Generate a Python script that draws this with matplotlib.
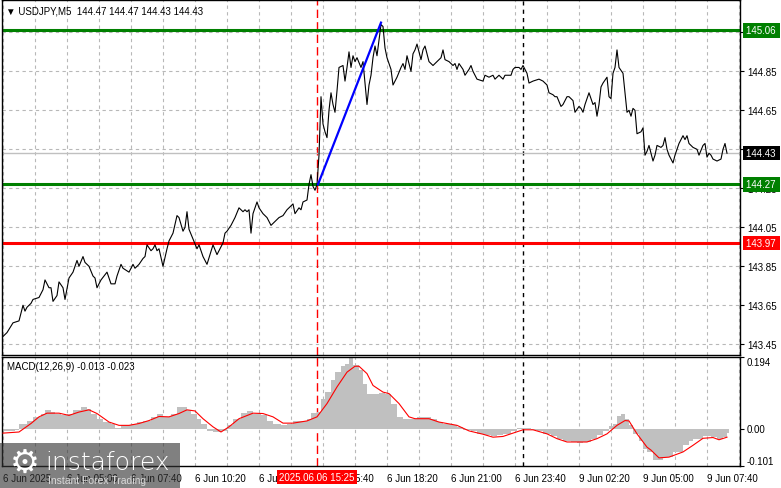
import numpy as np
import matplotlib.pyplot as plt
from matplotlib.patches import Rectangle
from matplotlib.transforms import blended_transform_factory

W, H, DPI = 781, 489, 100

# USDJPY M5 close, sampled (bar index from left edge, price)
bars = [0, 2, 5, 8, 10, 11, 12, 14, 15, 18, 20, 21, 23, 24, 25, 27, 28, 30, 31, 33,
        35, 36, 37, 38, 40, 41, 43, 45, 46, 47, 49, 52, 53, 54, 56, 57, 59, 60, 63, 65,
        66, 68, 70, 71, 72, 74, 75, 76, 77, 78, 80, 82, 83, 85, 87, 88, 90, 91, 92, 93,
        95, 97, 98, 100, 102, 105, 107, 110, 111, 112, 114, 116, 118, 120, 121, 122, 123, 124, 125, 127,
        128, 130, 132, 134, 136, 138, 140, 142, 144, 145, 146, 148, 149, 150, 152, 153, 154, 155, 156, 157,
        158, 159, 160, 161, 162, 163, 164, 165, 166, 167, 168, 170, 171, 172, 173, 174, 175, 176, 177, 179,
        180, 182, 183, 184, 185, 186, 187, 189, 190, 191, 192, 194, 195, 197, 199, 200, 201, 202, 204, 205,
        206, 207, 209, 210, 211, 213, 215, 217, 219, 220, 221, 223, 225, 226, 227, 228, 230, 231, 233, 234,
        235, 237, 240, 241, 243, 245, 246, 248, 250, 251, 254, 255, 256, 258, 259, 260, 262, 263, 265, 268,
        270, 272, 273, 275, 276, 277, 279, 280, 282, 283, 285, 286, 288, 289, 290, 291, 293, 295, 296, 297,
        298, 299, 300, 302, 303, 304, 305, 306, 307, 308, 310, 311, 312, 313, 314, 315, 316, 317, 319, 320,
        321, 322, 323, 325, 326, 327, 329, 330, 331, 332, 333, 335, 336, 337, 338, 340, 341, 342, 343, 345,
        347, 348, 350, 351, 352, 353, 354, 355, 357, 359, 360, 361, 362]
closes = [143.49, 143.51, 143.56, 143.57, 143.65, 143.62, 143.64, 143.66, 143.68, 143.69,
          143.73, 143.78, 143.74, 143.74, 143.67, 143.70, 143.77, 143.74, 143.68, 143.79,
          143.82, 143.85, 143.88, 143.85, 143.90, 143.87, 143.85, 143.80, 143.79, 143.74,
          143.78, 143.82, 143.79, 143.76, 143.76, 143.80, 143.86, 143.84, 143.82, 143.86,
          143.84, 143.86, 143.89, 143.90, 143.96, 143.93, 143.94, 143.96, 143.93, 143.94,
          143.85, 143.94, 143.98, 144.02, 144.11, 144.10, 144.03, 144.05, 144.13, 144.04,
          143.99, 143.94, 143.96, 143.90, 143.86, 143.96, 143.91, 143.97, 144.02, 144.03,
          144.06, 144.10, 144.15, 144.13, 144.14, 144.13, 144.14, 144.02, 144.12, 144.18,
          144.15, 144.12, 144.10, 144.06, 144.08, 144.10, 144.11, 144.14, 144.16, 144.17,
          144.12, 144.15, 144.14, 144.18, 144.19, 144.27, 144.32, 144.26, 144.24, 144.27,
          144.42, 144.72, 144.58, 144.54, 144.51, 144.65, 144.74, 144.68, 144.64, 144.75,
          144.87, 144.88, 144.80, 144.87, 144.95, 144.87, 144.93, 144.90, 144.92, 144.87,
          144.90, 144.68, 144.78, 144.83, 144.92, 144.98, 144.93, 145.09, 145.08, 144.97,
          144.92, 144.86, 144.78, 144.82, 144.87, 144.89, 144.86, 144.93, 144.85, 144.94,
          144.96, 144.99, 144.91, 144.96, 144.98, 144.90, 144.88, 144.90, 144.92, 144.96,
          144.91, 144.90, 144.88, 144.89, 144.86, 144.89, 144.86, 144.83, 144.86, 144.88,
          144.85, 144.81, 144.80, 144.83, 144.82, 144.83, 144.81, 144.83, 144.81, 144.83,
          144.83, 144.86, 144.87, 144.87, 144.86, 144.88, 144.84, 144.79, 144.80, 144.81,
          144.80, 144.78, 144.74, 144.73, 144.72, 144.72, 144.67, 144.68, 144.72, 144.72,
          144.70, 144.64, 144.67, 144.66, 144.64, 144.68, 144.74, 144.68, 144.69, 144.62,
          144.68, 144.77, 144.79, 144.82, 144.72, 144.71, 144.84, 144.87, 144.96, 144.87,
          144.84, 144.74, 144.64, 144.65, 144.62, 144.66, 144.65, 144.53, 144.54, 144.56,
          144.42, 144.44, 144.47, 144.39, 144.42, 144.47, 144.46, 144.47, 144.51, 144.45,
          144.42, 144.38, 144.42, 144.45, 144.48, 144.52, 144.50, 144.52, 144.48, 144.46,
          144.45, 144.42, 144.47, 144.48, 144.41, 144.43, 144.42, 144.40, 144.39, 144.40,
          144.45, 144.48, 144.43]

green_levels = [145.06, 144.27]
red_level = 143.97
last_price = 144.43

trend_bars = [157.5, 189]
trend_prices = [144.27, 145.10]

entry_bar = 157          # 2025.06.06 15:25
separator_bar = 260      # day separator
entry_label = "2025.06.06 15:25"

# MACD(12,26,9) histogram and signal
macd_bars = [0, 6, 8, 12, 15, 19, 21, 24, 26, 29, 32, 35, 39, 42, 44, 47, 50, 54, 56, 59,
             64, 67, 70, 74, 77, 80, 84, 87, 89, 92, 94, 97, 99, 102, 105, 109, 112, 115, 119, 122,
             125, 129, 132, 135, 139, 142, 145, 149, 152, 154, 157, 159, 161, 164, 166, 169, 171, 173, 175, 178,
             180, 182, 185, 188, 191, 194, 197, 200, 204, 207, 210, 214, 217, 220, 224, 227, 230, 234, 237, 240,
             244, 247, 250, 254, 257, 260, 264, 267, 270, 274, 277, 280, 284, 287, 290, 294, 297, 300, 303, 305,
             307, 309, 311, 313, 315, 318, 320, 322, 325, 330, 335, 340, 343, 345, 347, 350, 354, 357, 360, 362]
macd_hist = [-0.005, -0.004, 0.014, 0.022, 0.032, 0.041, 0.050, 0.045, 0.039, 0.036,
             0.041, 0.051, 0.059, 0.054, 0.041, 0.027, 0.018, 0.014, 0.003, 0.009,
             0.014, 0.018, 0.022, 0.032, 0.039, 0.032, 0.041, 0.059, 0.059, 0.050,
             0.041, 0.027, 0.014, -0.006, -0.009, -0.006, 0.009, 0.027, 0.042, 0.048,
             0.041, 0.036, 0.022, 0.014, 0.009, 0.014, 0.022, 0.021, 0.027, 0.042,
             0.045, 0.081, 0.099, 0.131, 0.153, 0.169, 0.176, 0.194, 0.171, 0.158,
             0.122, 0.095, 0.093, 0.097, 0.095, 0.068, 0.032, 0.027, 0.027, 0.032,
             0.032, 0.027, 0.018, 0.014, 0.009, 0.005, -0.003, -0.006, -0.014, -0.018,
             -0.021, -0.018, -0.014, -0.006, 0.003, 0.003, -0.003, -0.006, -0.014, -0.021,
             -0.027, -0.033, -0.036, -0.039, -0.036, -0.027, -0.018, -0.005, 0.006, 0.014,
             0.033, 0.041, 0.027, 0.009, -0.014, -0.032, -0.055, -0.062, -0.086, -0.076,
             -0.062, -0.045, -0.032, -0.027, -0.027, -0.021, -0.023, -0.027, -0.023, -0.013]
signal_bars = [0, 8, 14, 18, 22, 28, 33, 38, 43, 47, 53, 58, 63, 68, 73, 78, 83, 88, 92, 96,
               100, 105, 109, 113, 118, 125, 130, 135, 140, 145, 152, 157, 162, 167, 172, 176, 178, 182, 185, 190,
               193, 198, 203, 206, 213, 218, 227, 233, 240, 245, 250, 255, 260, 265, 272, 277, 282, 287, 292, 297,
               302, 307, 311, 313, 317, 322, 324, 328, 333, 340, 345, 350, 355, 358, 362]
signal_vals = [-0.012, -0.009, 0.014, 0.032, 0.042, 0.042, 0.036, 0.045, 0.051, 0.041,
               0.018, 0.009, 0.009, 0.014, 0.022, 0.033, 0.032, 0.041, 0.051, 0.048,
               0.027, 0.005, -0.009, 0.005, 0.027, 0.042, 0.041, 0.032, 0.015, 0.015,
               0.021, 0.032, 0.068, 0.113, 0.153, 0.169, 0.169, 0.149, 0.117, 0.099,
               0.095, 0.068, 0.032, 0.027, 0.027, 0.018, 0.009, -0.006, -0.015, -0.023,
               -0.021, -0.012, -0.003, -0.003, -0.014, -0.027, -0.036, -0.036, -0.036, -0.027,
               -0.014, 0.009, 0.022, 0.021, -0.014, -0.050, -0.058, -0.079, -0.077, -0.063,
               -0.045, -0.026, -0.024, -0.030, -0.023]

tick_bars = [0, 32, 64, 96, 128, 160, 192, 224, 256, 288, 320, 352]
tick_labels = ["6 Jun 2025", "6 Jun 05:00", "6 Jun 07:40", "6 Jun 10:20", "6 Jun 13:00",
               "6 Jun 15:40", "6 Jun 18:20", "6 Jun 21:00", "6 Jun 23:40", "9 Jun 02:20",
               "9 Jun 05:00", "9 Jun 07:40"]
price_ticks = [143.45, 143.65, 143.85, 144.05, 144.25, 144.45, 144.65, 144.85, 145.05]

plt.rcParams['font.family'] = ['Liberation Sans', 'DejaVu Sans']
plt.rcParams['font.size'] = 7

fig = plt.figure(figsize=(W / DPI, H / DPI), dpi=DPI, facecolor='white')


def px_axes(left, top, right, bottom):
    return fig.add_axes([left / W, 1 - bottom / H, (right - left) / W, (bottom - top) / H])


ax = px_axes(2, 1, 740, 356)
axm = px_axes(2, 358, 740, 467)

grid_kw = dict(color='#b8b8b8', lw=0.8, ls=(0, (3, 3)), zorder=0)
for a in (ax, axm):
    a.set_xlim(-0.5, 368.5)
    for gb in range(0, 369, 16):
        a.axvline(gb, **grid_kw)
    a.axvline(entry_bar, color='red', lw=1, ls=(0, (6, 3)), zorder=1)
    a.axvline(separator_bar, color='black', lw=1, ls=(0, (3, 3)), zorder=1)
    for s in a.spines.values():
        s.set_color('black')
        s.set_linewidth(1)

# price panel
ax.set_ylim(143.395, 145.216)
for p in price_ticks:
    ax.axhline(p, **grid_kw)
ax.axhline(last_price, color='#c0c0c0', lw=1, zorder=1)
for lv in green_levels:
    ax.axhline(lv, color='#008000', lw=2.2, zorder=2)
ax.axhline(red_level, color='#ff0000', lw=2.2, zorder=2)
ax.plot(bars, closes, color='black', lw=0.8, zorder=3)
ax.plot(trend_bars, trend_prices, color='#0000ff', lw=1.6, zorder=4)

ax.yaxis.tick_right()
ax.set_yticks(price_ticks)
ax.set_yticklabels([f"{p:.2f}" for p in price_ticks])
ax.tick_params(axis='y', direction='out', length=3, pad=2, labelsize=7)
ax.set_xticks([])

tr = blended_transform_factory(ax.transAxes, ax.transData)
tags = [(green_levels[0], '#008000'), (green_levels[1], '#008000'),
        (red_level, '#ff0000'), (last_price, 'black')]
for val, col in tags:
    ax.text(1.0075, val, f"{val:.2f} ", transform=tr, ha='left', va='center', color='white',
            fontsize=7, clip_on=False, zorder=10,
            bbox=dict(boxstyle='square,pad=0.22', fc=col, ec='none'))

# MACD panel
axm.set_ylim(-0.101, 0.194)
widths = np.diff(macd_bars + [macd_bars[-1] + 1])
axm.bar(macd_bars, macd_hist, width=widths, align='edge', color='#c0c0c0', lw=0, zorder=2)
axm.plot(signal_bars, signal_vals, color='#ff0000', lw=0.8, zorder=3)

axm.yaxis.tick_right()
axm.set_yticks([0.194, 0.0, -0.101])
axm.set_yticklabels(['0.194', '0.00', '-0.101'])
axm.tick_params(axis='y', direction='out', length=3, pad=2, labelsize=7)
for lbl, va in zip(axm.get_yticklabels(), ['top', 'center', 'bottom']):
    lbl.set_verticalalignment(va)

axm.set_xticks(tick_bars)
axm.set_xticklabels(tick_labels, ha='left')
axm.tick_params(axis='x', length=0, pad=5, labelsize=7)

trm = blended_transform_factory(axm.transData, axm.transAxes)
axm.text(entry_bar, -0.1, entry_label, transform=trm, ha='center', va='center', color='white',
         fontsize=7, clip_on=False, zorder=10,
         bbox=dict(boxstyle='square,pad=0.2', fc='#ff0000', ec='none'))

# headers
fig.text(6 / W, 1 - 11 / H, "\u25bc USDJPY,M5  144.47 144.47 144.43 144.43", va='center',
         fontsize=7, color='black')
fig.text(7 / W, 1 - 367 / H, "MACD(12,26,9) -0.013 -0.023", va='center', fontsize=7, color='black')

# watermark logo
fig.patches.append(Rectangle((0, 0), 180 / W, 45 / H, transform=fig.transFigure,
                             fc='#333333', alpha=0.62, ec='none', zorder=5))
fig.text(25 / W, 1 - 463 / H, "\u2699", ha='center', va='center', fontsize=24, color='white',
         family='DejaVu Sans', zorder=6)
fig.text(45 / W, 1 - 463 / H, "instaforex", ha='left', va='center', fontsize=18, color='white',
         family='DejaVu Sans', weight='light', zorder=6)
fig.text(48 / W, 1 - 481 / H, "Instant Forex Trading", ha='left', va='center', fontsize=7.5,
         color='#d8d8d8', zorder=6)

fig.savefig('out.png', dpi=DPI, facecolor='white')
